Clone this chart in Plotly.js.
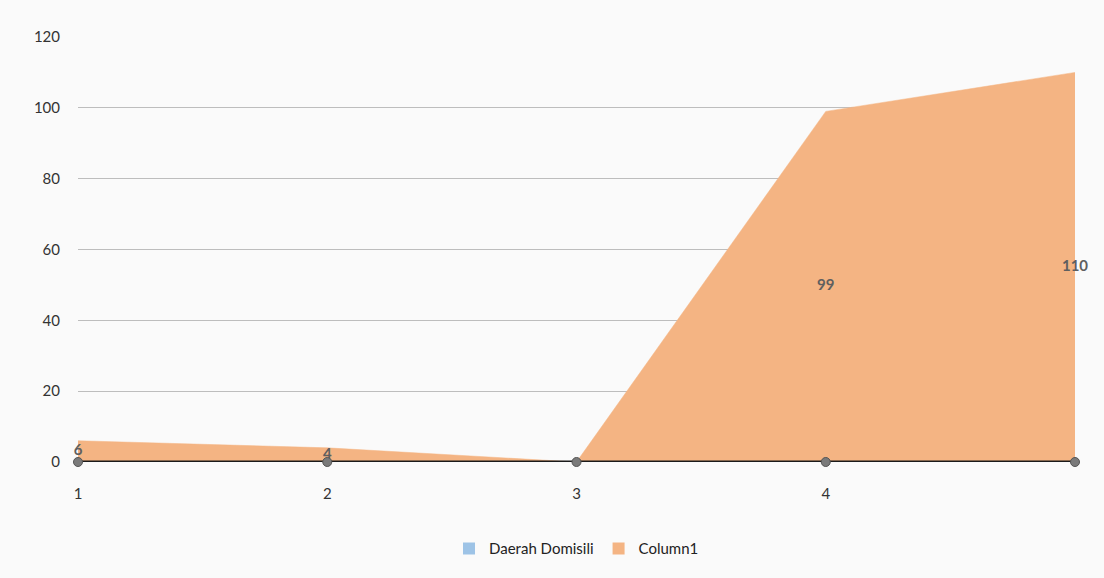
<!DOCTYPE html>
<html>
<head>
<meta charset="utf-8">
<script src="https://cdn.plot.ly/plotly-3.0.1.min.js"></script>
<style>html,body{margin:0;padding:0;background:#fafafa;}#chart{width:1104px;height:578px;}</style>
</head>
<body>
<div id="chart"></div>
<script>
var categories = ["1", "2", "3", "4", "5"];
var tickLabels = ["1", "2", "3", "4", ""];
var seriesNames = ["Daerah Domisili", "Column1"];
var daerahDomisili = [0, 0, 0, 0, 0];
var column1 = [6, 4, 0, 99, 110];
var column1Labels = ["6", "4", "", "99", "110"];

var xIdx = categories.map(function (c, i) { return i; });
var blue = '#9dc3e6', orange = '#f4b483';

var traces = [
  {
    type: 'scatter', name: seriesNames[1], x: xIdx, y: column1,
    mode: 'lines', fill: 'tozeroy', fillcolor: orange,
    line: {color: orange, width: 0.5}, hoverinfo: 'skip', showlegend: false
  },
  {
    type: 'scatter', name: seriesNames[0], x: xIdx, y: daerahDomisili,
    mode: 'lines', fill: 'tozeroy', fillcolor: blue,
    line: {color: '#1a1a1a', width: 3}, hoverinfo: 'skip', showlegend: false
  },
  {
    type: 'scatter', x: xIdx, y: column1.map(function (v) { return v / 2; }),
    mode: 'text', text: column1Labels, textposition: 'middle center',
    textfont: {family: 'Lato, "Open Sans", sans-serif', size: 15, color: '#5f5f5f', weight: 'bold'},
    showlegend: false, hoverinfo: 'skip', cliponaxis: false
  },
  {
    type: 'scatter', x: xIdx, y: daerahDomisili,
    mode: 'markers', marker: {symbol: 'circle', size: 9, color: '#7a7a7a', line: {color: '#555', width: 1}},
    showlegend: false, hoverinfo: 'skip', cliponaxis: false
  },
  {
    type: 'scatter', name: seriesNames[0], x: [null], y: [null], mode: 'markers',
    marker: {symbol: 'square', size: 8, color: blue}, showlegend: true
  },
  {
    type: 'scatter', name: seriesNames[1], x: [null], y: [null], mode: 'markers',
    marker: {symbol: 'square', size: 8, color: orange}, showlegend: true
  }
];

var layout = {
  width: 1104, height: 578,
  paper_bgcolor: '#fafafa', plot_bgcolor: 'rgba(0,0,0,0)',
  margin: {l: 78, r: 29, t: 37, b: 116},
  font: {family: 'Lato, "Open Sans", sans-serif', size: 15, color: '#333'},
  xaxis: {
    range: [0, 4], tickmode: 'array', tickvals: xIdx, ticktext: tickLabels,
    showgrid: false, zeroline: false, showline: false, ticks: 'outside',
    ticklen: 18, tickcolor: 'rgba(0,0,0,0)', tickfont: {size: 15, color: '#333'}
  },
  yaxis: {
    range: [0, 120], dtick: 20, showgrid: true, gridcolor: '#bdbdbd', gridwidth: 1,
    zeroline: false, showline: false, ticks: 'outside', ticklen: 14,
    tickcolor: 'rgba(0,0,0,0)', tickfont: {size: 15, color: '#333'}
  },
  legend: {
    orientation: 'h', x: 0.5, xanchor: 'center', y: -0.165, yanchor: 'top',
    font: {size: 15, color: '#222'}, bgcolor: 'rgba(0,0,0,0)',
    itemwidth: 30, traceorder: 'normal', itemsizing: 'constant'
  },
  showlegend: true
};

Plotly.newPlot('chart', traces, layout, {displayModeBar: false, staticPlot: true});
</script>
</body>
</html>
